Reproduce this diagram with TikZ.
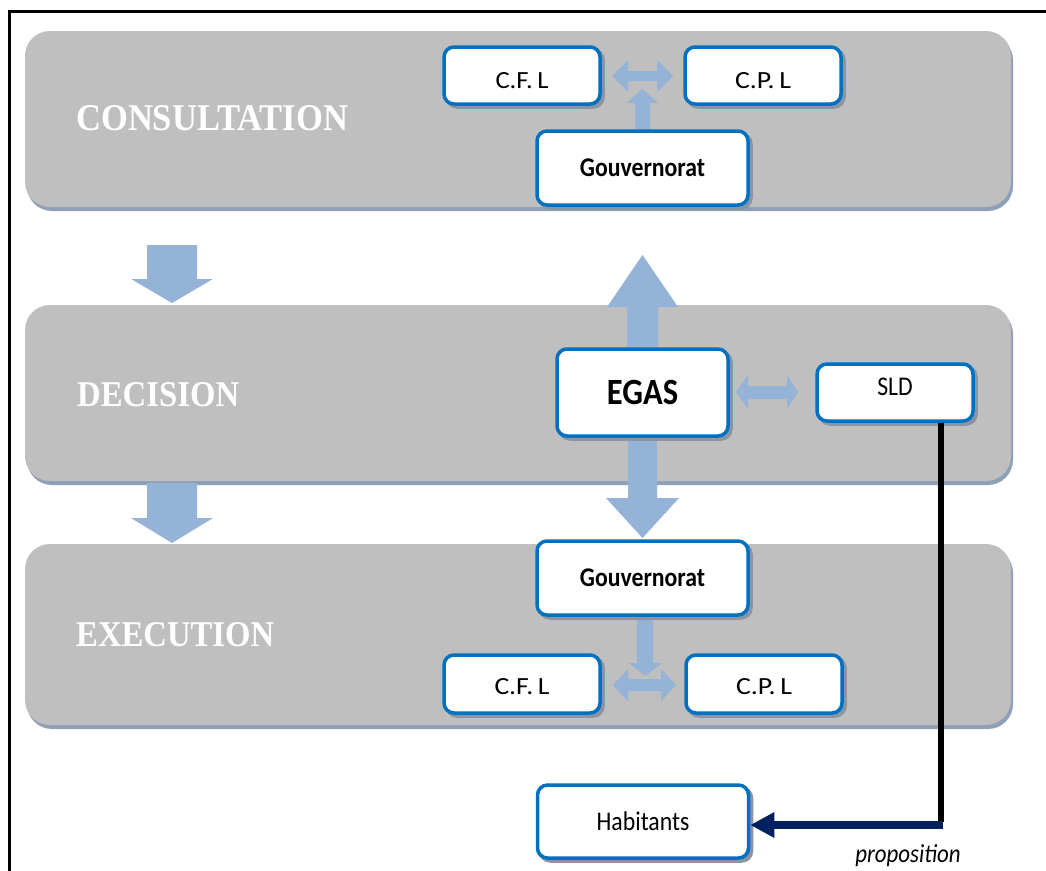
\documentclass[tikz,border=0pt]{standalone}
\usepackage{fontspec}
\setmainfont{Carlito}
\newfontfamily\condfont{Carlito}[FakeStretch=0.88]
\newfontfamily\titlefont{Liberation Serif}
\usetikzlibrary{shadows,arrows.meta}
\definecolor{bandgray}{HTML}{BFBFBF}
\definecolor{bandshadow}{HTML}{8EA0B6}
\definecolor{arrowblue}{HTML}{95B3D7}
\definecolor{boxblue}{HTML}{0070C0}
\definecolor{boxshadow}{HTML}{8A94A3}
\definecolor{navyline}{HTML}{002060}
\tikzset{
  bandbox/.style={fill=bandgray, rounded corners=25pt, inner sep=0pt,
    general shadow={fill=bandshadow, shadow xshift=2pt, shadow yshift=-4pt}},
  titletext/.style={text=white, font=\titlefont\bfseries, inner sep=0pt, anchor=base west},
  box/.style={draw=boxblue, line width=3.5pt, fill=white, rounded corners=10pt, inner sep=0pt,
    general shadow={fill=boxshadow, draw=boxshadow, line width=3.5pt, shadow xshift=3pt, shadow yshift=-3pt},
    font=\fontsize{22}{22}\selectfont},
  smallbox/.style={box, minimum width=156pt, minimum height=57pt},
  bigbox/.style={box, minimum width=211pt, minimum height=74pt},
  condtext/.style={font=\condfont\fontsize{27}{27}\selectfont},
  condbold/.style={font=\condfont\fontsize{27}{27}\selectfont\bfseries},
  blockarrow/.style={fill=arrowblue},
}
\begin{document}
\begin{tikzpicture}[x=1pt,y=-1pt]
\useasboundingbox (0,0) rectangle (1046,870);
\fill[white] (0,0) rectangle (1046,870);
% frame
\draw[line width=3pt] (9.5,875) -- (9.5,11) -- (1050,11);

% bands
\node[bandbox, minimum width=986pt, minimum height=176pt] (consult) at (518,119) {};
\node[bandbox, minimum width=986pt, minimum height=176pt] (decision) at (518,393) {};
\node[bandbox, minimum width=986pt, minimum height=181pt] (execution) at (518,634.5) {};

\node[titletext] (tconsult) at (76,130) {\resizebox{272pt}{25pt}{CONSULTATION}};
\node[titletext] (tdecision) at (77,406) {\resizebox{162pt}{24pt}{DECISION}};
\node[titletext] (texecution) at (76,646) {\resizebox{198pt}{24pt}{EXECUTION}};

% block arrows between bands
\fill[blockarrow] (147,245) -- (197,245) -- (197,279) -- (213,279) -- (172,303) -- (131,279) -- (147,279) -- cycle;
\fill[blockarrow] (147,483) -- (197,483) -- (197,518) -- (213,518) -- (172,543) -- (131,518) -- (147,518) -- cycle;

% consultation arrows
\fill[blockarrow] (612,76) -- (628,60) -- (628,71) -- (657,71) -- (657,60) -- (673,76) -- (657,92) -- (657,81) -- (628,81) -- (628,92) -- cycle;
\fill[blockarrow] (635,135) -- (635,103) -- (627,103) -- (642.5,89) -- (658,103) -- (650,103) -- (650,135) -- cycle;

% decision arrows
\fill[blockarrow] (627,355) -- (627,307) -- (607,307) -- (642.5,255) -- (678,307) -- (658,307) -- (658,355) -- cycle;
\fill[blockarrow] (628,430) -- (628,498) -- (606,498) -- (642.5,538) -- (679,498) -- (657,498) -- (657,430) -- cycle;
\fill[blockarrow] (736,392) -- (748,375) -- (748,386) -- (787,386) -- (787,375) -- (798,392) -- (787,409) -- (787,399) -- (748,399) -- (748,409) -- cycle;

% execution arrows
\fill[blockarrow] (637,610) -- (637,663) -- (629,663) -- (645,676) -- (662,663) -- (653,663) -- (653,610) -- cycle;
\fill[blockarrow] (613,685) -- (628,669) -- (628,679) -- (661,679) -- (661,669) -- (676,685) -- (661,701) -- (661,691) -- (628,691) -- (628,701) -- cycle;

% boxes
\node[smallbox] (cfl1) at (522,75.5) {\raisebox{0pt}[25pt][0pt]{\resizebox{53pt}{16pt}{C.F.\,L}}};
\node[smallbox] (cpl1) at (763,75.5) {\raisebox{0pt}[25pt][0pt]{\resizebox{56pt}{16pt}{C.P.\,L}}};
\node[bigbox, condbold] (gov1) at (642.5,168) {Gouvernorat};

\node[box, minimum width=171pt, minimum height=87pt, font=\condfont\fontsize{37}{37}\selectfont\bfseries] (egas) at (642.5,392.5) {EGAS};
\node[smallbox, condtext] (sld) at (895,392.5) {\raisebox{0pt}[17.4pt][12pt]{SLD}};

\node[bigbox, condbold] (gov2) at (642.5,578) {Gouvernorat};
\node[smallbox, minimum height=58pt] (cfl2) at (522,684) {\raisebox{0pt}[20pt][0pt]{\resizebox{55pt}{16pt}{C.F.\,L}}};
\node[smallbox, minimum height=58pt] (cpl2) at (764,684) {\raisebox{0pt}[20pt][0pt]{\resizebox{56pt}{16pt}{C.P.\,L}}};

\node[bigbox, minimum height=73pt, condtext] (hab) at (643,821.5) {Habitants};

% SLD -> Habitants
\coordinate (turn) at (941,825);
\draw[line width=6pt, black] (sld.south -| turn) -- ([yshift=3pt]turn);
\draw[line width=8pt, navyline, -{Triangle[length=24pt,width=24pt]}] ([xshift=2pt]turn) -- (turn -| hab.east);
\node[font=\condfont\fontsize{26}{26}\selectfont\itshape, inner sep=0pt] (prop) at (908,856) {proposition};
\end{tikzpicture}
\end{document}
